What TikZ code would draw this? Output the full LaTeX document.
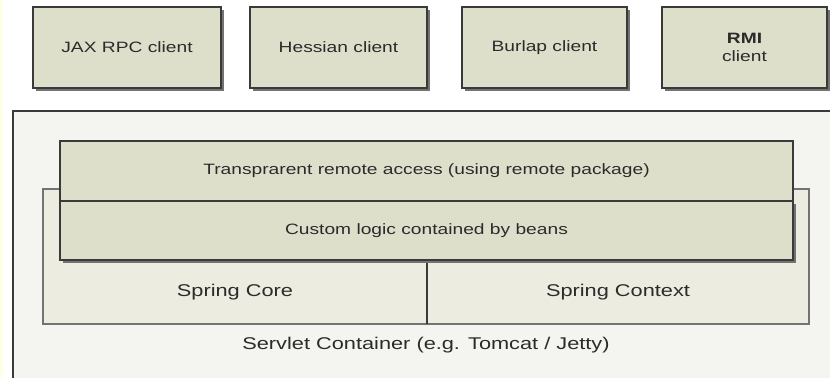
\documentclass[tikz,border=0pt]{standalone}
\usepackage{fontspec}
\newfontfamily\diafont{Liberation Sans}[FakeStretch=1.28]
\usetikzlibrary{shadows,positioning}
\definecolor{clrBorders}{HTML}{3A3A3A}
\definecolor{clrText}{HTML}{2B2B2B}
\definecolor{clrBox}{HTML}{DEDFCB}
\definecolor{clrSpring}{HTML}{ECECE0}
\definecolor{clrServlet}{HTML}{F4F5F0}
\definecolor{clrStrip}{HTML}{FFFFE6}
\tikzstyle{box_style0}=[draw=clrBorders, line width=1.2pt, fill=clrBox,
text=clrText, font=\diafont\fontsize{15}{18}\selectfont, align=center,
inner sep=0pt, outer sep=0pt]
\tikzstyle{myshadow}=[drop shadow={shadow xshift=3pt, shadow yshift=-3pt, fill=black!55, opacity=1}]
\tikzstyle{client}=[box_style0, myshadow, minimum height=81pt]
\tikzstyle{layer}=[box_style0, minimum width=733pt]
\tikzstyle{spring_part}=[text=clrText, font=\diafont\fontsize{17}{20}\selectfont,
inner sep=0pt, outer sep=0pt, minimum height=64pt]

\begin{document}
\begin{tikzpicture}[x=1pt, y=-1pt]
	\useasboundingbox (0,0) rectangle (830,378);
	\fill[clrStrip] (0,0) rectangle (3,378);

	% servlet container, cut by the page on the right and below
	\fill[clrServlet] (13,111) rectangle (830,378);
	\draw[clrBorders, line width=1.5pt] (13,378) -- (13,111) -- (830,111);

	\node[client, anchor=north west, minimum width=188pt] (jax) at (33,7) {JAX RPC client};
	\node[client, minimum width=177pt, right=29pt of jax] (hessian) {Hessian client};
	\node[client, minimum width=165pt, right=35pt of hessian] (burlap) {Burlap client};
	\node[client, minimum width=165pt, right=35pt of burlap] (rmi) {\textbf{RMI}\\client};

	\node[draw=black!55, line width=1.5pt, fill=clrSpring, anchor=north west,
		minimum width=766pt, minimum height=135pt, inner sep=0pt, outer sep=0pt] (spring) at (43,189) {};
	\node[spring_part, anchor=south west, minimum width=384pt] (core) at (spring.south west) {Spring Core};
	\node[spring_part, right=0pt of core, minimum width=382pt] (context) {Spring Context};
	\draw[clrBorders, line width=1.2pt] (core.north east) -- (core.south east);

	\node[layer, anchor=north west, minimum height=60pt] (remote) at (60,141) {Transprarent remote access (using remote package)};
	\node[layer, myshadow, below=0pt of remote, minimum height=59pt] (logic) {Custom logic contained by beans};

	\node[spring_part, minimum height=0pt] (servlet) at (426,345) {Servlet Container (e.g. Tomcat / Jetty)};
\end{tikzpicture}
\end{document}
